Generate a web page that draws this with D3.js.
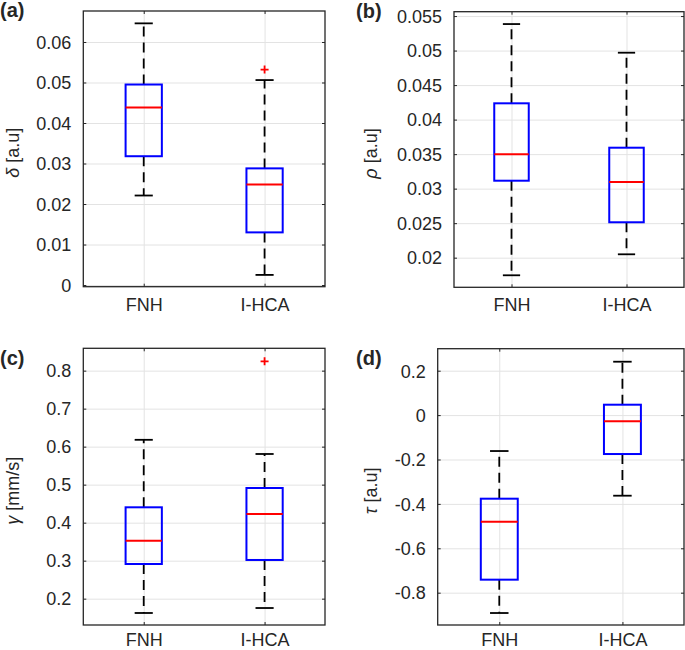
<!DOCTYPE html>
<html>
<head>
<meta charset="utf-8">
<script src="https://cdn.jsdelivr.net/npm/d3@7"></script>
<style>
  html, body { margin: 0; padding: 0; background: #fff; }
  svg { display: block; }
  text { font-family: "Liberation Sans", Arial, Helvetica, sans-serif; fill: #262626; }
</style>
</head>
<body>
<svg id="chart" width="685" height="650"></svg>
<script>
// ---------- data ----------
const categories = ["FNH", "I-HCA"];

// box stats per category: [lower whisker, Q1, median, Q3, upper whisker]
const deltaStats = [[0.0221, 0.0318, 0.0438, 0.0495, 0.0646], [0.0025, 0.0130, 0.0248, 0.0288, 0.0506]];
const deltaOutliers = [[], [0.0532]];
const deltaTicks = [0, 0.01, 0.02, 0.03, 0.04, 0.05, 0.06];

const rhoStats = [[0.01745, 0.03115, 0.03497, 0.04236, 0.05384], [0.02049, 0.02513, 0.03096, 0.03593, 0.04969]];
const rhoOutliers = [[], []];
const rhoTicks = [0.02, 0.025, 0.03, 0.035, 0.04, 0.045, 0.05, 0.055];

const gammaStats = [[0.1623, 0.2912, 0.3526, 0.4404, 0.618], [0.1754, 0.3018, 0.4228, 0.4912, 0.5807]];
const gammaOutliers = [[], [0.8246]];
const gammaTicks = [0.2, 0.3, 0.4, 0.5, 0.6, 0.7, 0.8];

const tauStats = [[-0.8916, -0.7414, -0.4802, -0.3766, -0.1619], [-0.3631, -0.1754, -0.0282, 0.0468, 0.2405]];
const tauOutliers = [[], []];
const tauTicks = [-0.8, -0.6, -0.4, -0.2, 0, 0.2];

const panelLetters = ["(a)", "(b)", "(c)", "(d)"];
const yLabelSymbols = ["δ", "ρ", "γ", "τ"];
const yLabelUnits = [" [a.u]", " [a.u]", " [mm/s]", " [a.u]"];

// ---------- layout ----------
const panels = [
  { stats: deltaStats, outliers: deltaOutliers, ticks: deltaTicks, domain: [-0.00041, 0.06765],
    box: { left: 83.3, right: 325, top: 11, bottom: 286.7 }, letter: { x: 0, y: 17 }, ylab: { x: 19 }, xlabOff: 24 },
  { stats: rhoStats, outliers: rhoOutliers, ticks: rhoTicks, domain: [0.01571, 0.05563],
    box: { left: 454, right: 684, top: 11.7, bottom: 287.3 }, letter: { x: 356, y: 18 }, ylab: { x: 377 }, xlabOff: 24 },
  { stats: gammaStats, outliers: gammaOutliers, ticks: gammaTicks, domain: [0.1307, 0.8588],
    box: { left: 83.3, right: 325, top: 348.3, bottom: 625 }, letter: { x: 0, y: 365 }, ylab: { x: 19 }, xlabOff: 21 },
  { stats: tauStats, outliers: tauOutliers, ticks: tauTicks, domain: [-0.9456, 0.2991],
    box: { left: 437.7, right: 684, top: 348.7, bottom: 625 }, letter: { x: 356, y: 365 }, ylab: { x: 377 }, xlabOff: 21 }
];

const FS = 18;
const fmt = v => {
  if (Math.abs(v) < 1e-12) return "0";
  return (+v.toFixed(4)).toString();
};

const svg = d3.select("#chart");

panels.forEach((p, i) => {
  const b = p.box;
  const W = b.right - b.left, H = b.bottom - b.top;
  const g = svg.append("g");

  const x = d3.scaleLinear().domain([0.5, 2.5]).range([b.left, b.right]);
  const y = d3.scaleLinear().domain(p.domain).range([b.bottom, b.top]);

  // grid
  const gridY = g.append("g").attr("transform", `translate(${b.left},0)`)
    .call(d3.axisLeft(y).tickValues(p.ticks).tickSize(-W).tickFormat(""));
  const gridX = g.append("g").attr("transform", `translate(0,${b.bottom})`)
    .call(d3.axisBottom(x).tickValues([1, 2]).tickSize(-H).tickFormat(""));
  [gridY, gridX].forEach(gr => {
    gr.select(".domain").remove();
    gr.selectAll(".tick line").attr("stroke", "#e3e3e3").attr("stroke-width", 1);
  });

  const bw = 0.3, cw = 0.15;
  const boxes = g.append("g");
  p.stats.forEach((s, k) => {
    const cx = x(k + 1);
    const [lo, q1, med, q3, hi] = s;
    // whiskers
    boxes.append("line").attr("x1", cx).attr("x2", cx).attr("y1", y(q3)).attr("y2", y(hi))
      .attr("stroke", "#000").attr("stroke-width", 1.8).attr("stroke-dasharray", "10,6");
    boxes.append("line").attr("x1", cx).attr("x2", cx).attr("y1", y(q1)).attr("y2", y(lo))
      .attr("stroke", "#000").attr("stroke-width", 1.8).attr("stroke-dasharray", "10,6");
    // caps
    [lo, hi].forEach(v => {
      boxes.append("line").attr("x1", x(k + 1 - cw / 2)).attr("x2", x(k + 1 + cw / 2))
        .attr("y1", y(v)).attr("y2", y(v)).attr("stroke", "#000").attr("stroke-width", 1.8);
    });
    // box
    boxes.append("rect").attr("x", x(k + 1 - bw / 2)).attr("y", y(q3))
      .attr("width", x(k + 1 + bw / 2) - x(k + 1 - bw / 2)).attr("height", y(q1) - y(q3))
      .attr("fill", "none").attr("stroke", "#0000ff").attr("stroke-width", 2);
    // median
    boxes.append("line").attr("x1", x(k + 1 - bw / 2)).attr("x2", x(k + 1 + bw / 2))
      .attr("y1", y(med)).attr("y2", y(med)).attr("stroke", "#ff0000").attr("stroke-width", 2);
    // outliers
    p.outliers[k].forEach(v => {
      const oy = y(v), r = 4;
      boxes.append("path").attr("d", `M${cx - r},${oy}H${cx + r}M${cx},${oy - r}V${oy + r}`)
        .attr("stroke", "#ff0000").attr("stroke-width", 1.8).attr("fill", "none");
    });
  });

  // axes (ticks inward, mirrored)
  const ax = [];
  ax.push(g.append("g").attr("transform", `translate(${b.left},0)`)
    .call(d3.axisLeft(y).tickValues(p.ticks).tickSize(-3).tickPadding(12).tickFormat(fmt)));
  ax.push(g.append("g").attr("transform", `translate(${b.right},0)`)
    .call(d3.axisRight(y).tickValues(p.ticks).tickSize(-3).tickFormat("")));
  ax.push(g.append("g").attr("transform", `translate(0,${b.bottom})`)
    .call(d3.axisBottom(x).tickValues([1, 2]).tickSize(-3).tickPadding(12).tickFormat((d) => categories[d - 1])));
  ax.push(g.append("g").attr("transform", `translate(0,${b.top})`)
    .call(d3.axisTop(x).tickValues([1, 2]).tickSize(-3).tickFormat("")));
  ax.forEach(a => {
    a.select(".domain").remove();
    a.selectAll(".tick line").attr("stroke", "#262626").attr("stroke-width", 1);
    a.selectAll("text").attr("font-size", FS).attr("fill", "#262626")
      .attr("font-family", '"Liberation Sans", Arial, sans-serif');
  });
  ax[0].selectAll("text").attr("x", -12).attr("dy", "0.35em");
  ax[2].selectAll("text").attr("y", 0).attr("dy", 0)
    .attr("transform", `translate(0,${p.xlabOff})`);

  // frame
  g.append("rect").attr("x", b.left).attr("y", b.top).attr("width", W).attr("height", H)
    .attr("fill", "none").attr("stroke", "#262626").attr("stroke-width", 1.3);

  // y label
  const yl = g.append("text")
    .attr("transform", `translate(${p.ylab.x},${(b.top + b.bottom) / 2 + 4}) rotate(-90)`)
    .attr("text-anchor", "middle").attr("font-size", FS);
  yl.append("tspan").attr("font-style", "italic").text(yLabelSymbols[i]);
  yl.append("tspan").text(yLabelUnits[i]);

  // panel letter
  g.append("text").attr("x", p.letter.x).attr("y", p.letter.y)
    .attr("font-size", 20).attr("font-weight", "bold").attr("fill", "#000").text(panelLetters[i]);
});
</script>
</body>
</html>
